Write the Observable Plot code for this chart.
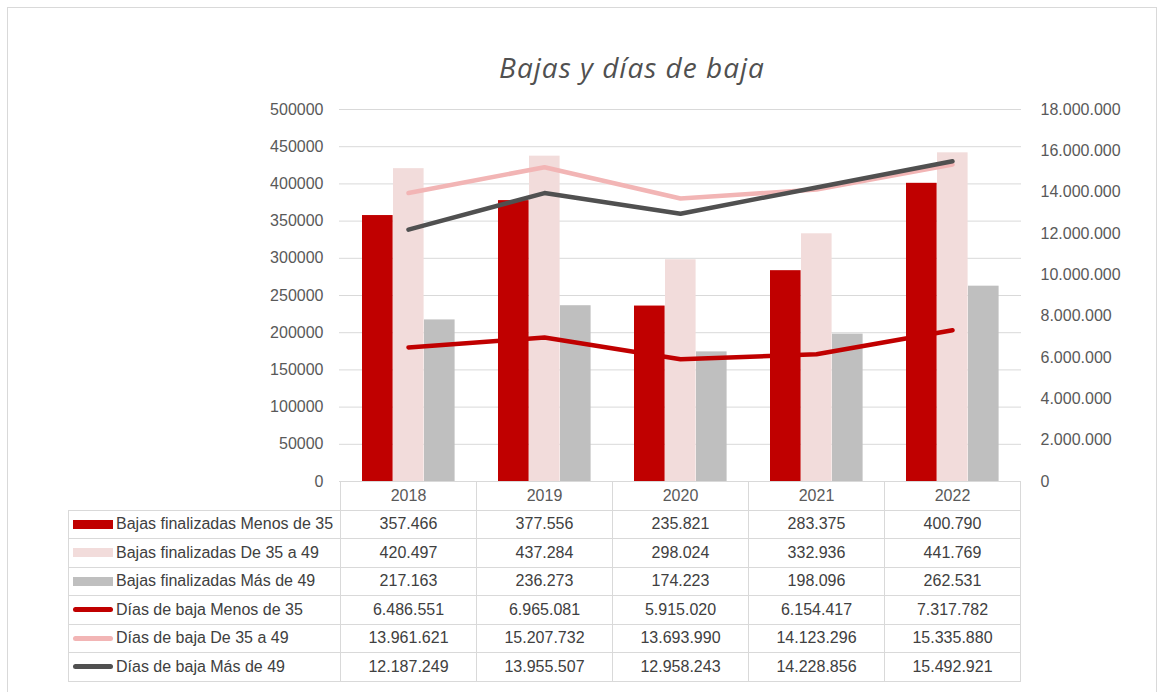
<!DOCTYPE html>
<html>
<head>
<meta charset="utf-8">
<script src="https://cdn.jsdelivr.net/npm/d3@7"></script>
<script src="https://cdn.jsdelivr.net/npm/@observablehq/plot@0.6"></script>
<style>
  html, body { margin: 0; padding: 0; background: #fff; }
  #wrap { position: relative; width: 1165px; height: 692px; overflow: hidden; }
  #frame { position: absolute; left: 7px; top: 7px; width: 1150px; height: 700px; border: 1px solid #D9D9D9; box-sizing: border-box; }
  #title { position: absolute; left: 332px; width: 600px; top: 50px; text-align: center;
           font-family: "Open Sans", sans-serif; font-style: italic; font-weight: 400; font-size: 28px;
           line-height: 34px; color: #505050; letter-spacing: 1px; }
  #chart { position: absolute; left: 0; top: 0; }
  table { position: absolute; border-collapse: collapse; table-layout: fixed;
          font-family: "Liberation Sans", Arial, sans-serif; font-size: 16px; color: #404040; }
  td { border: 1px solid #D9D9D9; height: 27.5px; padding: 0; text-align: center; white-space: nowrap; }
  td.lab { text-align: left; padding-left: 4px; }
  td.blank { border: none; }
  .sw { display: inline-block; width: 40px; vertical-align: middle; margin-right: 3px; position: relative; top: -1px; }
  .hd { color: #595959; }
</style>
</head>
<body>
<div id="wrap">
  <div id="frame"></div>
  <div id="title">Bajas y días de baja</div>
  <div id="chart"></div>
</div>
<script>
// ---- data ----
const years = ["2018", "2019", "2020", "2021", "2022"];
const bajasMenos35 = [357466, 377556, 235821, 283375, 400790];
const bajas35a49   = [420497, 437284, 298024, 332936, 441769];
const bajasMas49   = [217163, 236273, 174223, 198096, 262531];
const diasMenos35  = [6486551, 6965081, 5915020, 6154417, 7317782];
const dias35a49    = [13961621, 15207732, 13693990, 14123296, 15335880];
const diasMas49    = [12187249, 13955507, 12958243, 14228856, 15492921];
const leftTicks  = [0, 50000, 100000, 150000, 200000, 250000, 300000, 350000, 400000, 450000, 500000];
const rightTicks = [0, 2000000, 4000000, 6000000, 8000000, 10000000, 12000000, 14000000, 16000000, 18000000];
const seriesNames = [
  "Bajas finalizadas Menos de 35",
  "Bajas finalizadas De 35 a 49",
  "Bajas finalizadas Más de 49",
  "Días de baja Menos de 35",
  "Días de baja De 35 a 49",
  "Días de baja Más de 49"
];

// ---- styles ----
const cRed = "#C00000", cPinkBar = "#F2DCDB", cGrayBar = "#BFBFBF";
const cPinkLine = "#F2B5B5", cDarkLine = "#505050";
const leftMax = 500000, rightMax = 18000000;
const k = leftMax / rightMax;

const es = d3.formatLocale({decimal: ",", thousands: ".", grouping: [3], currency: ["", " €"]});
const fmt = es.format(",d");

const W = 1165, mL = 339, mR = 144, mT = 109, H = 500, mB = 19;
const bw = (W - mL - mR) / years.length;

const lineOpts = {strokeWidth: 4.5, strokeLinecap: "round", strokeLinejoin: "round"};

const plot = Plot.plot({
  width: W, height: H,
  marginLeft: mL, marginRight: mR, marginTop: mT, marginBottom: mB,
  style: {fontFamily: "'Liberation Sans', Arial, sans-serif", fontSize: "16px", color: "#595959", background: "transparent"},
  x: {type: "band", domain: years, padding: 0, axis: null},
  y: {domain: [0, leftMax]},
  marks: [
    Plot.gridY(leftTicks, {stroke: "#D9D9D9", strokeOpacity: 1}),
    Plot.axisY(leftTicks, {anchor: "left", tickSize: 0, tickPadding: 16, tickFormat: d => String(d), label: null}),
    Plot.axisY(rightTicks.map(v => v * k), {anchor: "right", tickSize: 0, tickPadding: 19,
      tickFormat: d => fmt(Math.round(d / k)), label: null}),
    Plot.barY(years, {x: d => d, y: (d, i) => bajasMenos35[i], fill: cRed, insetLeft: 22, insetRight: bw - 53}),
    Plot.barY(years, {x: d => d, y: (d, i) => bajas35a49[i], fill: cPinkBar, insetLeft: 53, insetRight: bw - 84}),
    Plot.barY(years, {x: d => d, y: (d, i) => bajasMas49[i], fill: cGrayBar, insetLeft: 84, insetRight: bw - 115}),
    Plot.line(years, {x: d => d, y: (d, i) => diasMenos35[i] * k, stroke: cRed, ...lineOpts}),
    Plot.line(years, {x: d => d, y: (d, i) => dias35a49[i] * k, stroke: cPinkLine, ...lineOpts}),
    Plot.line(years, {x: d => d, y: (d, i) => diasMas49[i] * k, stroke: cDarkLine, ...lineOpts}),
    Plot.ruleY([0], {stroke: "#D9D9D9"})
  ]
});
document.getElementById("chart").appendChild(plot);

// ---- data table (below the chart) ----
const xs = plot.scale("x");
const colW = xs.bandwidth;
const x0 = xs.apply(years[0]);
const firstW = 272;
const table = document.createElement("table");
table.style.left = (x0 - firstW) + "px";
table.style.top = (H - mB) + "px";
const colgroup = document.createElement("colgroup");
colgroup.innerHTML = `<col style="width:${firstW}px">` + years.map(() => `<col style="width:${colW}px">`).join("");
table.appendChild(colgroup);
const head = document.createElement("tr");
head.innerHTML = `<td class="blank"></td>` + years.map(y => `<td class="hd">${y}</td>`).join("");
table.appendChild(head);
const rows = [bajasMenos35, bajas35a49, bajasMas49, diasMenos35, dias35a49, diasMas49];
const swatches = [
  {c: cRed, h: 9, r: 0}, {c: cPinkBar, h: 9, r: 0}, {c: cGrayBar, h: 9, r: 0},
  {c: cRed, h: 5, r: 3}, {c: cPinkLine, h: 5, r: 3}, {c: cDarkLine, h: 5, r: 3}
];
rows.forEach((vals, r) => {
  const tr = document.createElement("tr");
  const s = swatches[r];
  tr.innerHTML = `<td class="lab"><span class="sw" style="height:${s.h}px;background:${s.c};border-radius:${s.r}px"></span>${seriesNames[r]}</td>` +
    vals.map(v => `<td>${fmt(v)}</td>`).join("");
  table.appendChild(tr);
});
document.getElementById("wrap").appendChild(table);
</script>
</body>
</html>
